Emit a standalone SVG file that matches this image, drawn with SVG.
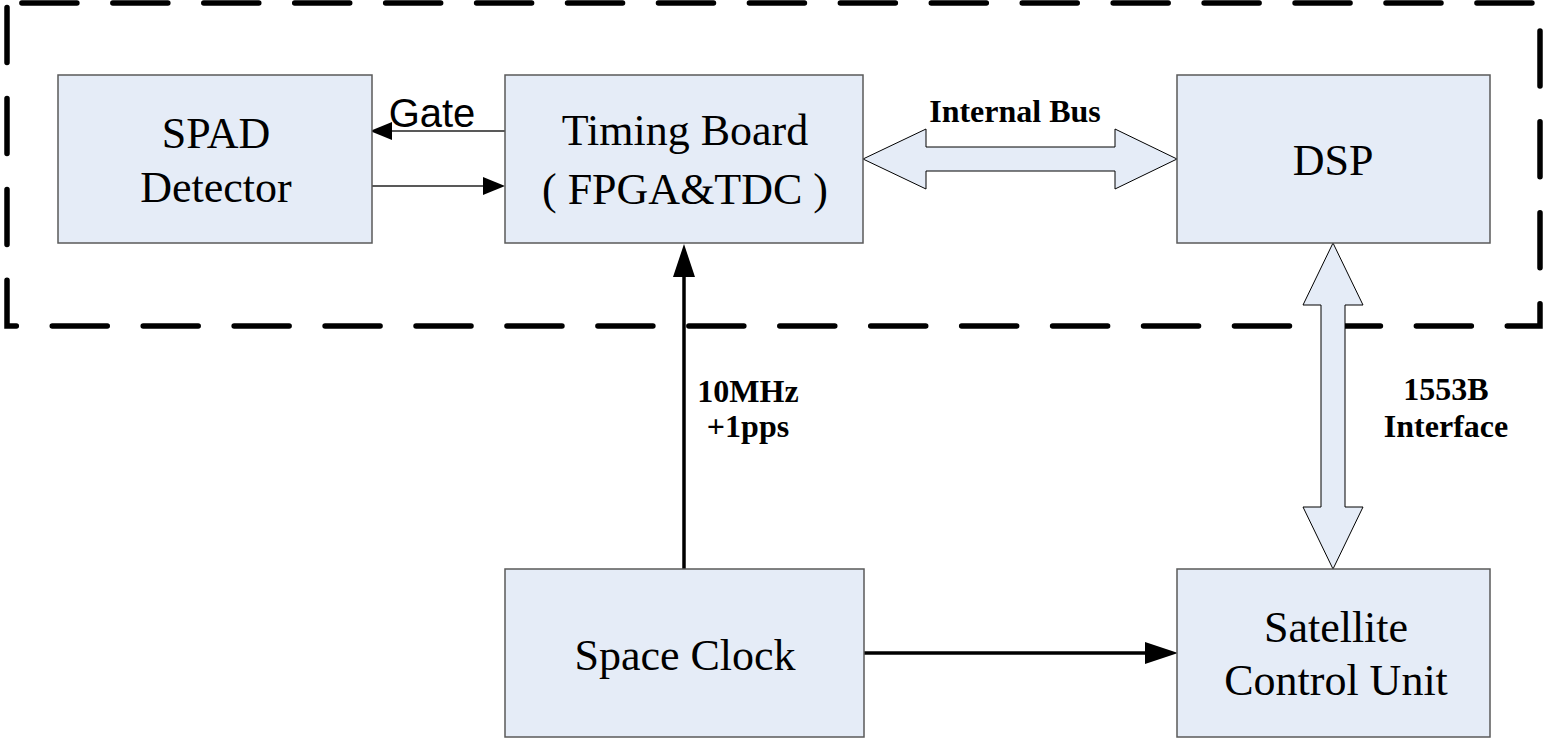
<svg xmlns="http://www.w3.org/2000/svg" width="1544" height="741" viewBox="0 0 1544 741">
<style>
.box{fill:#e5ecf7;stroke:#5a5a5a;stroke-width:1.5}
.t{font-family:"Liberation Serif","Times New Roman",serif;font-size:44px;fill:#000;text-anchor:middle}
.lb{font-family:"Liberation Serif","Times New Roman",serif;font-size:32px;font-weight:bold;fill:#000;text-anchor:middle}
.blk{fill:#e5ecf7;stroke:#000;stroke-width:1}
.thin{stroke:#222;stroke-width:1.5;fill:none}
.thick{stroke:#000;stroke-width:3.5;fill:none}
</style>
<defs>
<marker id="ahThin" markerUnits="userSpaceOnUse" markerWidth="22" markerHeight="18" refX="0" refY="9" orient="auto">
<path d="M0,0 L22,9 L0,18 Z" fill="#000"/>
</marker>
<marker id="ahThick" markerUnits="userSpaceOnUse" markerWidth="33" markerHeight="22" refX="0" refY="11" orient="auto">
<path d="M0,0 L33,11 L0,22 Z" fill="#000"/>
</marker>
</defs>
<g id="boundary">
<path d="M7,3 L7,326 L1540,326 L1540,3 Z" fill="none" stroke="#000" stroke-width="5.5" stroke-linecap="round" stroke-linejoin="miter" stroke-dasharray="55 35.94" stroke-dashoffset="-4.5"/>
</g>
<g id="connectors">
<line class="thin" x1="505" y1="131" x2="392" y2="131" marker-end="url(#ahThin)"/>
<line class="thin" x1="372" y1="186" x2="483" y2="186" stroke-width="1.2" marker-end="url(#ahThin)"/>
<polygon class="blk" points="863,159 926,129 926,147 1115,147 1115,129 1177,159 1115,189 1115,171 926,171 926,189"/>
<polygon class="blk" points="1333,243 1363,305 1345,305 1345,507 1363,507 1333,569 1303,507 1321,507 1321,305 1303,305"/>
<line class="thick" x1="684" y1="570" x2="684" y2="277" marker-end="url(#ahThick)"/>
<line class="thick" x1="864" y1="653" x2="1145" y2="653" marker-end="url(#ahThick)"/>
<text x="432" y="127" font-family="Liberation Sans, Arial, sans-serif" font-size="40" fill="#000" text-anchor="middle">Gate</text>
<text class="lb" x="1015" y="122">Internal Bus</text>
<text class="lb" x="748" y="402">10MHz</text>
<text class="lb" x="748" y="437">+1pps</text>
<text class="lb" x="1446" y="400">1553B</text>
<text class="lb" x="1446" y="437">Interface</text>
</g>
<g id="spad">
<rect class="box" x="58" y="75" width="314" height="168"/>
<text class="t" x="216" y="148">SPAD</text>
<text class="t" x="216" y="202">Detector</text>
</g>
<g id="timing">
<rect class="box" x="505" y="75" width="358" height="168"/>
<text class="t" x="685" y="145">Timing Board</text>
<text class="t" x="685" y="204">( FPGA&amp;TDC )</text>
</g>
<g id="dsp">
<rect class="box" x="1177" y="75" width="313" height="168"/>
<text class="t" x="1333" y="175">DSP</text>
</g>
<g id="clock">
<rect class="box" x="505" y="569" width="359" height="168"/>
<text class="t" x="685" y="670">Space Clock</text>
</g>
<g id="scu">
<rect class="box" x="1177" y="569" width="313" height="168"/>
<text class="t" x="1336" y="642">Satellite</text>
<text class="t" x="1336" y="695">Control Unit</text>
</g>
</svg>
